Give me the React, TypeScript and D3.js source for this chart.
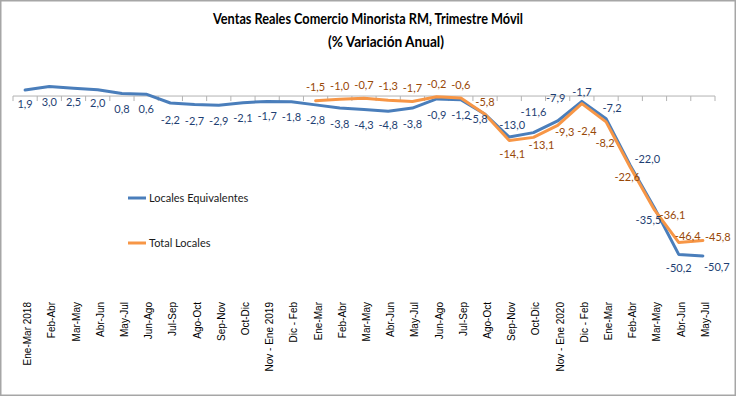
import React from "react";
import * as d3 from "d3";

const categories = [
  "Ene-Mar 2018", "Feb-Abr", "Mar-May", "Abr-Jun", "May-Jul", "Jun-Ago", "Jul-Sep", "Ago-Oct", "Sep-Nov", "Oct-Dic",
  "Nov - Ene 2019", "Dic - Feb", "Ene-Mar", "Feb-Abr ", "Mar-May ", "Abr-Jun ", "May-Jul ", "Jun-Ago ", "Jul-Sep ", "Ago-Oct ",
  "Sep-Nov ", "Oct-Dic ", "Nov - Ene 2020", "Dic - Feb ", "Ene-Mar ", "Feb-Abr  ", "Mar-May  ", "Abr-Jun  ", "May-Jul  ",
];

const localesEquivalentes = [
  1.9, 3.0, 2.5, 2.0, 0.8, 0.6, -2.2, -2.7, -2.9, -2.1, -1.7, -1.8, -2.8, -3.8, -4.3, -4.8, -3.8, -0.9, -1.2, -5.8,
  -13.0, -11.6, -7.9, -1.7, -7.2, -22.0, -35.5, -50.2, -50.7,
];

const totalLocalesStart = 12;
const totalLocales = [
  -1.5, -1.0, -0.7, -1.3, -1.7, -0.2, -0.6, -5.8, -14.1, -13.1, -9.3, -2.4, -8.2, -22.6, -36.1, -46.4, -45.8,
];

const seriesNames = ["Locales Equivalentes", "Total Locales"];
const titleLines = ["Ventas Reales Comercio Minorista RM, Trimestre Móvil", "(% Variación Anual)"];

// label placement offsets (pixels, relative to point)
const blueDx = [0,0,0,0,0,0,0,0,0,0,0,0,0,0,0,0,0,0,0,-7,3,0,-2,0,6,17,-6,0,14];
const blueDy = [14,15.5,14,13,15.5,15,17,16.5,16,15.5,15,15,15,16,15.5,14,16,16,15,5,-12,-20,-23,-9,-11,-6,12,14,11];
const orangeDx = [0,0,0,0,0,0,0,0,3,8,7,5,-1,-3,18,9,15];
const orangeDy = [-14,-13,-13,-14,-13,-12.5,-13,-12,14,8,7,28,21,10,5,-6,-3];

const W = 736;
const H = 396;
const BLUE = "#4A7EBB";
const ORANGE = "#F79646";
const BLUE_TXT = "#1F3F73";
const ORANGE_TXT = "#984807";
const FONT = "Lato, 'Open Sans', sans-serif";

const fmt = (v: number) => d3.format(".1f")(v).replace(".", ",").replace("−", "-");

const titleLayout = [
  { cx: 368, y: 24, len: 310 },
  { cx: 386, y: 47, len: 116 },
];

export default function App() {
  const x = d3.scaleBand<string>().domain(categories).range([13, 715]).padding(0);
  const bw = x.bandwidth();
  const cx = (i: number) => (x(categories[i]) as number) + bw / 2;
  const y = d3.scaleLinear().domain([10, -60]).range([64.5, 285.3]);

  const line = d3
    .line<{ i: number; v: number }>()
    .x((d) => cx(d.i))
    .y((d) => y(d.v));

  const blueData = localesEquivalentes.map((v, i) => ({ i, v }));
  const orangeData = totalLocales.map((v, k) => ({ i: k + totalLocalesStart, v }));

  const y0 = y(0);

  return (
    <svg width={W} height={H} style={{ position: "absolute", left: 0, top: 0, background: "#fff" }}>
      <rect x={0.75} y={0.75} width={W - 1.5} height={H - 1.5} fill="#fff" stroke="#a6a6a6" strokeWidth={1.5} />
      {titleLines.map((t, k) => (
        <text
          key={k}
          x={titleLayout[k].cx}
          y={titleLayout[k].y}
          textAnchor="middle"
          fontFamily={FONT}
          fontWeight="bold"
          fontSize={15}
          fill="#000"
          textLength={titleLayout[k].len}
          lengthAdjust="spacingAndGlyphs"
        >
          {t}
        </text>
      ))}
      {/* axis */}
      <line x1={13} x2={715} y1={y0} y2={y0} stroke="#b3b3b3" strokeWidth={1} />
      {d3.range(categories.length + 1).map((k) => {
        const xx = 13 + k * bw;
        return <line key={k} x1={xx} x2={xx} y1={y0} y2={y0 + 5} stroke="#b3b3b3" strokeWidth={1} />;
      })}
      {categories.map((c, i) => (
        <text
          key={i}
          transform={`translate(${cx(i) + 6},302) rotate(-90)`}
          textAnchor="end"
          fontFamily="'Liberation Sans', Arial, sans-serif"
          fontSize={10}
          fill="#000"
        >
          {c.trim()}
        </text>
      ))}
      {/* lines */}
      <path d={line(blueData) || ""} fill="none" stroke={BLUE} strokeWidth={3} strokeLinejoin="round" strokeLinecap="round" />
      <path d={line(orangeData) || ""} fill="none" stroke={ORANGE} strokeWidth={3} strokeLinejoin="round" strokeLinecap="round" />
      {/* labels */}
      {blueData.map((d) => (
        <text
          key={"b" + d.i}
          x={cx(d.i) + blueDx[d.i]}
          y={y(d.v) + blueDy[d.i]}
          dy="0.35em"
          textAnchor="middle"
          fontFamily={FONT}
          fontSize={11}
          fill={BLUE_TXT}
        >
          {fmt(d.v)}
        </text>
      ))}
      {orangeData.map((d, k) => (
        <text
          key={"o" + d.i}
          x={cx(d.i) + orangeDx[k]}
          y={y(d.v) + orangeDy[k]}
          dy="0.35em"
          textAnchor="middle"
          fontFamily={FONT}
          fontSize={11}
          fill={ORANGE_TXT}
        >
          {fmt(d.v)}
        </text>
      ))}
      {/* legend */}
      {seriesNames.map((n, k) => (
        <g key={n} transform={`translate(128,${198 + k * 45})`}>
          <line x1={0} x2={18} y1={0} y2={0} stroke={k === 0 ? BLUE : ORANGE} strokeWidth={3} />
          <text x={21} y={0} dy="0.35em" fontFamily={FONT} fontSize={11} fill="#1a1a1a">
            {n}
          </text>
        </g>
      ))}
    </svg>
  );
}
